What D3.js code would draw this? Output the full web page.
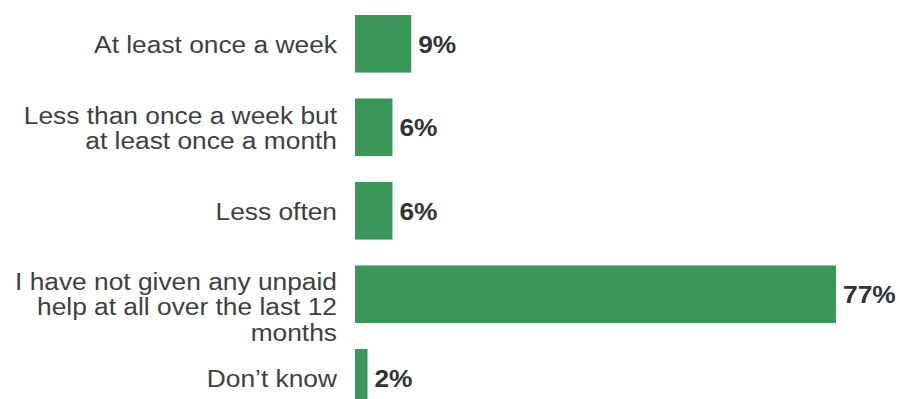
<!DOCTYPE html>
<html>
<head>
<meta charset="utf-8">
<script src="https://cdn.jsdelivr.net/npm/d3@7"></script>
<style>
  html, body { margin: 0; padding: 0; background: #ffffff; }
  svg { display: block; }
</style>
</head>
<body>
<svg id="chart" width="900" height="399"></svg>
<script>
// Survey responses: how often unpaid help was given
const categories = [
  ["At least once a week"],
  ["Less than once a week but", "at least once a month"],
  ["Less often"],
  ["I have not given any unpaid", "help at all over the last 12", "months"],
  ["Don\u2019t know"]
];
const values = [9, 6, 6, 77, 2];
const valueLabels = ["9%", "6%", "6%", "77%", "2%"];

const barLeft = 355;
const labelRight = 337;
const svg = d3.select("#chart");

const x = d3.scaleLinear().domain([0, 77]).range([barLeft, 836]);
const y = d3.scaleBand()
  .domain(d3.range(values.length))
  .range([4.14, 417.4])
  .paddingInner(0.31)
  .paddingOuter(0.13);

const green = "#3b9659";
const fontFamily = "'Liberation Sans', Arial, Helvetica, sans-serif";
const fontSize = 24.5;
const stretch = 1.075;   // slightly wide text rendering
const lineH = 25.5;

// bars
svg.append("g").selectAll("rect")
  .data(values)
  .join("rect")
  .attr("x", x(0))
  .attr("y", (d, i) => y(i))
  .attr("width", d => x(d) - x(0))
  .attr("height", y.bandwidth())
  .attr("fill", green);

// value labels
svg.append("g").selectAll("text")
  .data(values)
  .join("text")
  .attr("transform", d => {
    const ax = x(d) + 7;
    return `translate(${ax},0) scale(${stretch},1) translate(${-ax},0)`;
  })
  .attr("x", d => x(d) + 7)
  .attr("y", (d, i) => y(i) + y.bandwidth() / 2 + 9)
  .attr("font-family", fontFamily)
  .attr("font-size", fontSize)
  .attr("font-weight", "bold")
  .attr("fill", "#333333")
  .text((d, i) => valueLabels[i]);

// category labels (multi-line, right aligned)
const catG = svg.append("g")
  .attr("transform", `translate(${labelRight},0) scale(${stretch},1) translate(${-labelRight},0)`);
categories.forEach((lines, i) => {
  const cy = y(i) + y.bandwidth() / 2;
  const n = lines.length;
  // up to two lines are centred on the bar; taller blocks start at the bar top
  const firstBaseline = n <= 2
    ? cy + 9 - (n - 1) / 2 * lineH
    : y(i) + 24.5;
  const t = catG.append("text")
    .attr("text-anchor", "end")
    .attr("font-family", fontFamily)
    .attr("font-size", fontSize)
    .attr("fill", "#404040");
  lines.forEach((ln, j) => {
    t.append("tspan")
      .attr("x", labelRight)
      .attr("y", firstBaseline + j * lineH)
      .text(ln);
  });
});
</script>
</body>
</html>
